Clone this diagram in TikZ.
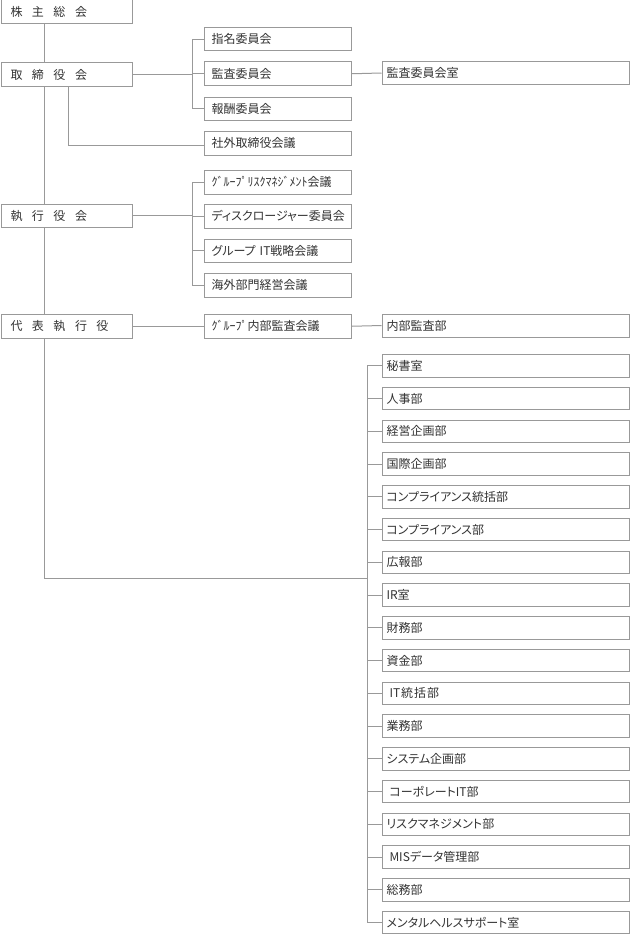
\documentclass[tikz,border=0pt]{standalone}
\usepackage{fontspec}
\setmainfont[RawFeature=+palt]{Noto Sans CJK JP}
\usetikzlibrary{backgrounds}
\definecolor{lgray}{HTML}{999999}
\definecolor{tgray}{HTML}{333333}
\newcommand{\jg}{\hspace{9.5pt}}
\begin{document}
\begin{tikzpicture}[x=1pt,y=-1pt,
  ln/.style={draw=lgray,line width=1pt},
  bx/.style={draw=lgray,fill=white,line width=1pt,anchor=north west,inner ysep=0pt,
    minimum height=23.5pt,align=left,text=tgray,font=\fontsize{12}{14}\selectfont},
  lbox/.style={bx,inner xsep=9.5pt,text width=112.5pt},
  mbox/.style={bx,inner xsep=7pt,text width=133pt},
  rbox/.style={bx,inner xsep=4.5pt,text width=238pt,minimum height=23pt}]
\useasboundingbox (0,0) rectangle (629,934);

% left column
\node[lbox,minimum height=24pt] (kabu) at (0.5,-1) {株\jg 主\jg 総\jg 会};
\node[lbox,minimum height=24pt] (tori) at (0.5,62) {取\jg 締\jg 役\jg 会};
\node[lbox] (shik) at (0.5,203.5) {執\jg 行\jg 役\jg 会};
\node[lbox] (dai)  at (0.5,314) {代\jg 表\jg 執\jg 行\jg 役};

% middle column
\node[mbox] (shim)   at (204,27)    {指名委員会};
\node[mbox] (kansa)  at (204,61.5)  {監査委員会};
\node[mbox] (hoshu)  at (204,96.5)  {報酬委員会};
\node[mbox] (shagai) at (204,131)   {社外取締役会議};
\node[mbox] (grisk)  at (204,170)   {ｸﾞﾙｰﾌﾟﾘｽｸﾏﾈｼﾞﾒﾝﾄ会議};
\node[mbox] (disc)   at (204,204)   {ディスクロージャー委員会};
\node[mbox] (git)    at (204,238.5) {グループ IT戦略会議};
\node[mbox] (kaigai) at (204,273)   {海外部門経営会議};
\node[mbox] (gnai)   at (204,314)   {ｸﾞﾙｰﾌﾟ内部監査会議};

% right column
\node[rbox] (kansitsu) at (381.5,61)    {監査委員会室};
\node[rbox] (naibu)    at (381.5,313.5) {内部監査部};
\foreach \t [count=\i] in {秘書室,人事部,経営企画部,国際企画部,コンプライアンス統括部,
  コンプライアンス部,広報部,IR室,財務部,資金部,{\hspace{3pt}IT\hspace{1pt}統\hspace{1pt}括\hspace{1pt}部},
  業務部,システム企画部,{\hspace{3pt}コーポレートIT部},リスクマネジメント部,
  {\hspace{3pt}MISデータ管理部},総務部,メンタルヘルスサポート室}{
  \node[rbox,minimum height=22.5pt] (d\i) at (381.5,{354+32.75*(\i-1)}) {\t};
}

% helper coordinates
\coordinate (tx) at (44,0);
\coordinate (sx) at (68,0);
\coordinate (bx1) at (192,0);
\coordinate (bx2) at (367,0);
\coordinate (sj) at (0,145.5);
\coordinate (dj) at (367,578.5);

\begin{scope}[on background layer]
  % main trunk
  \draw[ln] (kabu.south -| tx) -- (tx |- dj) -- (dj);
  % board of directors
  \draw[ln] (tori.east) -- (tori.east -| bx1);
  \draw[ln] (shim.west -| bx1) -- (hoshu.west -| bx1);
  \foreach \n in {shim,kansa,hoshu} \draw[ln] (\n.west -| bx1) -- (\n.west);
  \draw[ln] (tori.south -| sx) -- (sx |- sj) -- (shagai.west |- sj);
  \draw[ln] (kansa.east) -- (kansitsu.west);
  % executive officers
  \draw[ln] (shik.east) -- (shik.east -| bx1);
  \draw[ln] (grisk.west -| bx1) -- (kaigai.west -| bx1);
  \foreach \n in {grisk,disc,git,kaigai} \draw[ln] (\n.west -| bx1) -- (\n.west);
  % representative executive officer
  \draw[ln] (dai.east) -- (gnai.west);
  \draw[ln] (gnai.east) -- (naibu.west);
  % departments
  \draw[ln] (d1.west -| bx2) -- (d18.west -| bx2);
  \foreach \i in {1,...,18} \draw[ln] (d\i.west -| bx2) -- (d\i.west);
\end{scope}
\end{tikzpicture}
\end{document}
